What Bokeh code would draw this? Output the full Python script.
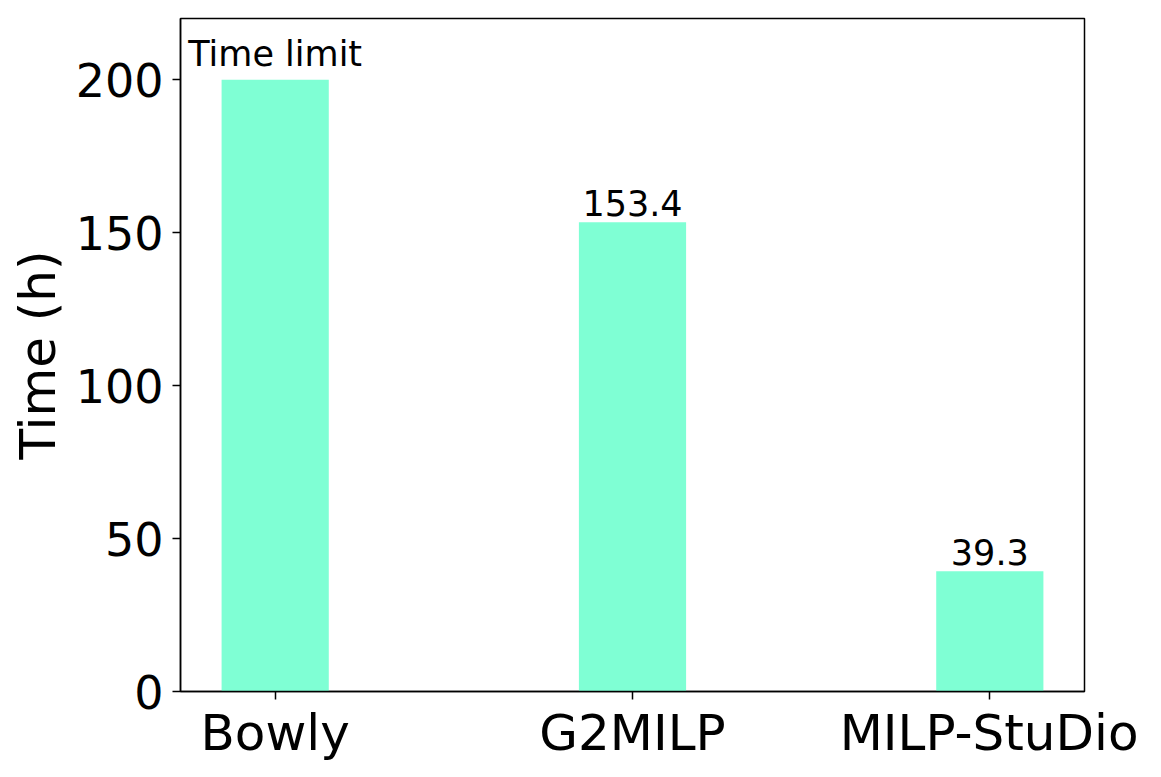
from bokeh.plotting import figure
from bokeh.models import ColumnDataSource, Range1d, FixedTicker
from bokeh.core.properties import value
from bokeh.embed import file_html
from bokeh.resources import INLINE

categories = ["Bowly", "G2MILP", "MILP-StuDio"]
times = [200.0, 153.4, 39.3]
bar_labels = ["Time limit", "153.4", "39.3"]
y_ticks = [0, 50, 100, 150, 200]

xs = list(range(len(categories)))
src = ColumnDataSource(data=dict(x=xs, top=times, label=bar_labels))

p = figure(frame_width=904, frame_height=673, output_backend="svg", toolbar_location=None,
           x_range=Range1d(-0.265, 2.265), y_range=Range1d(0, 220),
           min_border_left=180, min_border_top=18, min_border_right=54, min_border_bottom=62)
p.background_fill_color = "white"
p.border_fill_color = "white"
p.outline_line_color = "black"
p.outline_line_width = 1.5
p.grid.visible = False

p.vbar(x="x", top="top", bottom=0, width=0.3, source=src, fill_color="#7FFFD4", line_color=None)
p.text(x="x", y="top", text="label", source=src, text_align="center", text_baseline="bottom",
       text_font=value("DejaVu Sans"), text_font_size="35px", text_color="black", y_offset=-6)

font = "DejaVu Sans"
p.xaxis.ticker = FixedTicker(ticks=xs)
p.xaxis.major_label_overrides = {i: c for i, c in enumerate(categories)}
p.yaxis.ticker = FixedTicker(ticks=y_ticks)
for ax in (p.xaxis[0], p.yaxis[0]):
    ax.axis_line_color = "black"
    ax.axis_line_width = 1.5
    ax.major_tick_line_color = "black"
    ax.major_tick_line_width = 1.5
    ax.major_tick_out = 8
    ax.major_tick_in = 0
    ax.minor_tick_line_color = None
    ax.major_label_text_font = font
    ax.major_label_text_color = "black"
p.xaxis.major_label_text_font_size = "50px"
p.xaxis.major_label_standoff = 4
p.yaxis.major_label_text_font_size = "46px"
p.yaxis.major_label_standoff = 9
p.yaxis.axis_label = "Time (h)"
p.yaxis.axis_label_text_font = font
p.yaxis.axis_label_text_font_size = "50px"
p.yaxis.axis_label_text_font_style = "normal"
p.yaxis.axis_label_text_color = "black"
p.yaxis.axis_label_standoff = 6

open("out.html", "w").write(file_html(p, INLINE))
